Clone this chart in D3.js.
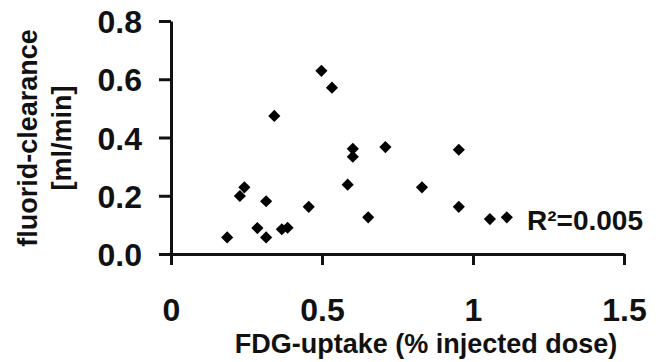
<!DOCTYPE html>
<html>
<head>
<meta charset="utf-8">
<script src="https://cdn.jsdelivr.net/npm/d3@7"></script>
<style>
  html, body { margin: 0; padding: 0; background: #fff; }
  svg { display: block; }
  text { font-family: "Liberation Sans", Arial, sans-serif; font-weight: bold; fill: #111; }
</style>
</head>
<body>
<svg id="chart" width="663" height="362"></svg>
<script>
// Data
const fdgUptake = [0.186, 0.228, 0.243, 0.286, 0.315, 0.315, 0.342, 0.367, 0.386, 0.456, 0.498,
                   0.533, 0.585, 0.602, 0.602, 0.653, 0.710, 0.831, 0.953, 0.953, 1.056, 1.112];
const fluoridClearance = [0.057, 0.199, 0.229, 0.089, 0.181, 0.057, 0.474, 0.085, 0.090, 0.162, 0.629,
                          0.571, 0.238, 0.361, 0.334, 0.126, 0.367, 0.229, 0.358, 0.162, 0.120, 0.126];
const xTicks = [0, 0.5, 1, 1.5];
const xTickLabels = ["0", "0.5", "1", "1.5"];
const yTicks = [0, 0.2, 0.4, 0.6, 0.8];
const yTickLabels = ["0.0", "0.2", "0.4", "0.6", "0.8"];
const xTitle = "FDG-uptake (% injected dose)";
const yTitleLines = ["fluorid-clearance", "[ml/min]"];
const annotation = "R\u00B2=0.005";

const svg = d3.select("#chart");
const x = d3.scaleLinear().domain([0, 1.5]).range([171, 624]);
const y = d3.scaleLinear().domain([0, 0.8]).range([254, 21]);

const stroke = "#111";

// X axis
const xAxis = d3.axisBottom(x).tickValues(xTicks).tickSize(11).tickSizeOuter(0).tickFormat((d, i) => xTickLabels[i]);
const gx = svg.append("g").attr("transform", `translate(0,${y(0)})`).call(xAxis);
gx.select(".domain").attr("stroke", stroke).attr("stroke-width", 3);
gx.selectAll(".tick line").attr("stroke", stroke).attr("stroke-width", 3);
gx.selectAll(".tick text")
  .attr("y", 67).attr("dy", 0)
  .style("font-size", "32px").style("font-family", '"Liberation Sans", Arial, sans-serif')
  .style("font-weight", "bold").attr("fill", "#111");

// Y axis
const yAxis = d3.axisLeft(y).tickValues(yTicks).tickSize(12).tickSizeOuter(0).tickFormat((d, i) => yTickLabels[i]);
const gy = svg.append("g").attr("transform", `translate(${x(0)},0)`).call(yAxis);
gy.select(".domain").attr("stroke", stroke).attr("stroke-width", 3);
gy.selectAll(".tick line").attr("stroke", stroke).attr("stroke-width", 3);
gy.selectAll(".tick text")
  .attr("x", -29).attr("dy", "0.36em")
  .style("font-size", "32px").style("font-family", '"Liberation Sans", Arial, sans-serif')
  .style("font-weight", "bold").attr("fill", "#111");

// Points (diamonds)
const diamond = d3.symbol().type(d3.symbolSquare).size(74);
svg.append("g").selectAll("path")
  .data(fdgUptake.map((v, i) => [v, fluoridClearance[i]]))
  .join("path")
  .attr("d", diamond)
  .attr("transform", d => `translate(${x(d[0])},${y(d[1])}) rotate(45)`)
  .attr("fill", "#000");

// Annotation
svg.append("text")
  .attr("x", 527).attr("y", 230)
  .style("font-size", "28px")
  .text(annotation);

// X title
svg.append("text")
  .attr("x", 426).attr("y", 353)
  .attr("text-anchor", "middle")
  .style("font-size", "27px")
  .text(xTitle);

// Y title
const yt = svg.append("text")
  .attr("transform", "translate(0,138) rotate(-90)")
  .attr("text-anchor", "middle")
  .style("font-size", "27px");
yt.selectAll("tspan").data(yTitleLines).join("tspan")
  .attr("x", 0).attr("y", (d, i) => 37 + i * 34)
  .text(d => d);
</script>
</body>
</html>
